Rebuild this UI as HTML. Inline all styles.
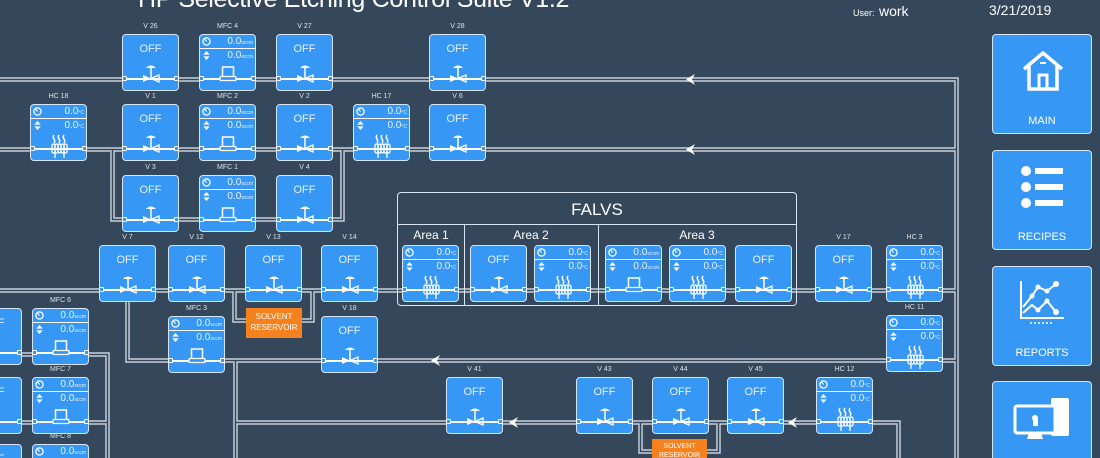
<!DOCTYPE html>
<html><head><meta charset="utf-8"><style>
html,body{margin:0;padding:0;width:1100px;height:458px;overflow:hidden}
body{background:#34475b;font-family:"Liberation Sans",sans-serif}
#w{position:relative;width:1100px;height:458px;overflow:hidden;background:#34475b}
.b{position:absolute;width:57px;height:57px;background:#3797f5;border:1.5px solid #d6e6f7;border-radius:4px;box-sizing:border-box;color:#fff}
.b i{position:absolute;top:-12px;left:-15px;right:-15px;text-align:center;font-style:normal;font-size:7px;color:#dde3ea}
.b b{position:absolute;top:8px;width:100%;text-align:center;font-weight:normal;font-size:11px;color:#e8f2ff}
.b s{position:absolute;left:1px;right:1px;top:43px;height:1.5px;background:#fff}
.b s:before,.b s:after{content:"";position:absolute;top:-2px;width:5px;height:5px;border:1px solid #fff;background:#3797f5;box-sizing:border-box;border-radius:1px}
.b s:before{left:-2px}.b s:after{right:-2px}
.b svg.ic{position:absolute;left:15px;top:29px;width:26px;height:24px}
.r{position:absolute;left:0;right:0;height:13px;font-size:10px;text-align:right;padding-right:2px;line-height:13px;white-space:nowrap;overflow:hidden;color:#e8f2ff}
.r1{top:0;border-bottom:1.5px solid #fff}.r2{top:14px}
.r small{font-size:5px}
.r svg{position:absolute;left:2px;top:2px;width:9px;height:9px}
.n{position:absolute;left:992px;width:100px;height:100px;background:#3797f5;border:1.5px solid #d6e6f7;border-radius:4px;box-sizing:border-box;color:#fff;text-align:center;font-size:11px}
.n span{position:absolute;left:0;right:0;top:80px}
.o{position:absolute;background:#f5821f;color:#fff;font-size:8px;text-align:center;line-height:11px;padding-top:3px;box-sizing:border-box}
.fal{position:absolute;left:397px;top:192px;width:400px;height:114px;border:1.5px solid #d6e6f7;border-radius:4px;box-sizing:border-box}
</style></head><body><div id="w">
<svg width="0" height="0" style="position:absolute">
<defs>
<symbol id="vv" viewBox="0 0 26 24"><path d="M8 4 Q13 -1 18 4 Z" fill="#fff"/><line x1="13" y1="4" x2="13" y2="14" stroke="#fff" stroke-width="1.5"/><path d="M5 11 L5 18 L13 14.5 Z" fill="#fff"/><path d="M21 11 L21 18 L13 14.5 Z" fill="none" stroke="#fff" stroke-width="1.3"/></symbol>
<symbol id="mm" viewBox="0 0 26 24"><rect x="7.5" y="3" width="11" height="10" fill="none" stroke="#fff" stroke-width="1.5"/><rect x="5" y="12.5" width="16" height="4" rx="1" fill="#3797f5" stroke="#fff" stroke-width="1.3"/></symbol>
<symbol id="hh" viewBox="0 0 26 24"><path d="M8 1 q-1.5 2 0 4 q1.5 2 0 4 M13 1 q-1.5 2 0 4 q1.5 2 0 4 M18 1 q-1.5 2 0 4 q1.5 2 0 4" fill="none" stroke="#fff" stroke-width="1.5"/><g fill="none" stroke="#fff" stroke-width="1.3"><rect x="6" y="10" width="3" height="9" rx="1.5"/><rect x="9" y="10" width="3" height="9" rx="1.5"/><rect x="12" y="10" width="3" height="9" rx="1.5"/><rect x="15" y="10" width="3" height="9" rx="1.5"/><rect x="18" y="10" width="3" height="9" rx="1.5"/><line x1="9" y1="19" x2="9" y2="24"/><line x1="18" y1="19" x2="18" y2="24"/></g></symbol>
<symbol id="gg" viewBox="0 0 10 10"><circle cx="5" cy="5" r="4" fill="none" stroke="#fff" stroke-width="1.4"/><path d="M5 5 L3 2.5" stroke="#fff" stroke-width="1.2"/></symbol>
<symbol id="ud" viewBox="0 0 10 10"><path d="M5 0 L8.5 4 L1.5 4 Z M5 10 L8.5 6 L1.5 6 Z" fill="#fff"/></symbol>
</defs></svg>

<div style="position:absolute;left:138px;top:-15px;font-size:25px;color:#fff;white-space:nowrap;letter-spacing:-0.3px">HP Selective Etching Control Suite  V1.2</div>
<div style="position:absolute;left:853px;top:3px;color:#fff;white-space:nowrap"><span style="font-size:9px">User:</span> <span style="font-size:14px">work</span></div>
<div style="position:absolute;left:989px;top:2px;color:#fff;font-size:14px">3/21/2019</div>

<svg style="position:absolute;left:0;top:0" width="1100" height="458">
<g fill="none" stroke="#c9d1da" stroke-width="4.5">
<path d="M0 79.5H956.5V460"/><path d="M0 149.5H956.5"/><path d="M112.5 149.5V219.5H342.5V149.5"/>
<path d="M0 290.5H956"/><path d="M127.5 290.5V360.5H956"/><path d="M235.5 360.5V460"/><path d="M235.5 422.5H898.5V460"/>
<path d="M0 354.5H107.5V460"/><path d="M0 422.5H107.5"/>
<path d="M234.5 290.5V320.5H250"/><path d="M312.5 290.5V320.5H298"/>
<path d="M640.5 422.5V451.5H656"/><path d="M718.5 422.5V451.5H704"/>
</g>
<g fill="none" stroke="#34475b" stroke-width="1.6">
<path d="M0 79.5H956.5V460"/><path d="M0 149.5H956.5"/><path d="M112.5 149.5V219.5H342.5V149.5"/>
<path d="M0 290.5H956"/><path d="M127.5 290.5V360.5H956"/><path d="M235.5 360.5V460"/><path d="M235.5 422.5H898.5V460"/>
<path d="M0 354.5H107.5V460"/><path d="M0 422.5H107.5"/>
<path d="M234.5 290.5V320.5H250"/><path d="M312.5 290.5V320.5H298"/>
<path d="M640.5 422.5V451.5H656"/><path d="M718.5 422.5V451.5H704"/>
</g>
<g fill="#fff">
<path d="M686 79.5 L695 74 L692 79.5 L695 85 Z"/><path d="M686 149.5 L695 144 L692 149.5 L695 155 Z"/>
<path d="M431 360.5 L440 355 L437 360.5 L440 366 Z"/><path d="M509 422.5 L518 417 L515 422.5 L518 428 Z"/>
<path d="M788 422.5 L797 417 L794 422.5 L797 428 Z"/>
</g>
</svg>

<div class="fal"><div style="position:absolute;left:0;right:0;top:0;height:31px;border-bottom:1.5px solid #d6e6f7;color:#fff;font-size:17px;text-align:center;line-height:33px">FALVS</div>
<div style="position:absolute;left:66px;top:31px;bottom:0;border-left:1.5px solid #d6e6f7"></div>
<div style="position:absolute;left:200px;top:31px;bottom:0;border-left:1.5px solid #d6e6f7"></div>
<div style="position:absolute;left:0;width:66px;top:35px;text-align:center;color:#fff;font-size:12px">Area 1</div>
<div style="position:absolute;left:66px;width:134px;top:35px;text-align:center;color:#fff;font-size:12px">Area 2</div>
<div style="position:absolute;left:200px;width:198px;top:35px;text-align:center;color:#fff;font-size:12px">Area 3</div>
</div>

<div class="b" style="left:122px;top:34px"><i>V 26</i><b>OFF</b><s></s><svg class="ic"><use href="#vv"/></svg></div>
<div class="b" style="left:276px;top:34px"><i>V 27</i><b>OFF</b><s></s><svg class="ic"><use href="#vv"/></svg></div>
<div class="b" style="left:429px;top:34px"><i>V 28</i><b>OFF</b><s></s><svg class="ic"><use href="#vv"/></svg></div>
<div class="b" style="left:122px;top:104px"><i>V 1</i><b>OFF</b><s></s><svg class="ic"><use href="#vv"/></svg></div>
<div class="b" style="left:276px;top:104px"><i>V 2</i><b>OFF</b><s></s><svg class="ic"><use href="#vv"/></svg></div>
<div class="b" style="left:429px;top:104px"><i>V 6</i><b>OFF</b><s></s><svg class="ic"><use href="#vv"/></svg></div>
<div class="b" style="left:122px;top:175px"><i>V 3</i><b>OFF</b><s></s><svg class="ic"><use href="#vv"/></svg></div>
<div class="b" style="left:276px;top:175px"><i>V 4</i><b>OFF</b><s></s><svg class="ic"><use href="#vv"/></svg></div>
<div class="b" style="left:99px;top:245px"><i>V 7</i><b>OFF</b><s></s><svg class="ic"><use href="#vv"/></svg></div>
<div class="b" style="left:168px;top:245px"><i>V 12</i><b>OFF</b><s></s><svg class="ic"><use href="#vv"/></svg></div>
<div class="b" style="left:245px;top:245px"><i>V 13</i><b>OFF</b><s></s><svg class="ic"><use href="#vv"/></svg></div>
<div class="b" style="left:321px;top:245px"><i>V 14</i><b>OFF</b><s></s><svg class="ic"><use href="#vv"/></svg></div>
<div class="b" style="left:470px;top:245px"><b>OFF</b><s></s><svg class="ic"><use href="#vv"/></svg></div>
<div class="b" style="left:735px;top:245px"><b>OFF</b><s></s><svg class="ic"><use href="#vv"/></svg></div>
<div class="b" style="left:815px;top:245px"><i>V 17</i><b>OFF</b><s></s><svg class="ic"><use href="#vv"/></svg></div>
<div class="b" style="left:321px;top:316px"><i>V 18</i><b>OFF</b><s></s><svg class="ic"><use href="#vv"/></svg></div>
<div class="b" style="left:446px;top:377px"><i>V 41</i><b>OFF</b><s></s><svg class="ic"><use href="#vv"/></svg></div>
<div class="b" style="left:576px;top:377px"><i>V 43</i><b>OFF</b><s></s><svg class="ic"><use href="#vv"/></svg></div>
<div class="b" style="left:652px;top:377px"><i>V 44</i><b>OFF</b><s></s><svg class="ic"><use href="#vv"/></svg></div>
<div class="b" style="left:727px;top:377px"><i>V 45</i><b>OFF</b><s></s><svg class="ic"><use href="#vv"/></svg></div>
<div class="b" style="left:-35px;top:308px"><b>OFF</b><s></s></div>
<div class="b" style="left:-35px;top:377px"><b>OFF</b><s></s></div>
<div class="b" style="left:-35px;top:444px"><b>OFF</b><s></s></div>

<div class="b" style="left:199px;top:34px"><i>MFC 4</i><div class="r r1"><svg><use href="#gg"/></svg>0.0<small>sccm</small></div><div class="r r2"><svg><use href="#ud"/></svg>0.0<small>sccm</small></div><s></s><svg class="ic"><use href="#mm"/></svg></div>
<div class="b" style="left:199px;top:104px"><i>MFC 2</i><div class="r r1"><svg><use href="#gg"/></svg>0.0<small>sccm</small></div><div class="r r2"><svg><use href="#ud"/></svg>0.0<small>sccm</small></div><s></s><svg class="ic"><use href="#mm"/></svg></div>
<div class="b" style="left:199px;top:175px"><i>MFC 1</i><div class="r r1"><svg><use href="#gg"/></svg>0.0<small>sccm</small></div><div class="r r2"><svg><use href="#ud"/></svg>0.0<small>sccm</small></div><s></s><svg class="ic"><use href="#mm"/></svg></div>
<div class="b" style="left:168px;top:316px"><i>MFC 3</i><div class="r r1"><svg><use href="#gg"/></svg>0.0<small>sccm</small></div><div class="r r2"><svg><use href="#ud"/></svg>0.0<small>sccm</small></div><s></s><svg class="ic"><use href="#mm"/></svg></div>
<div class="b" style="left:605px;top:245px"><div class="r r1"><svg><use href="#gg"/></svg>0.0<small>sccm</small></div><div class="r r2"><svg><use href="#ud"/></svg>0.0<small>sccm</small></div><s></s><svg class="ic"><use href="#mm"/></svg></div>
<div class="b" style="left:32px;top:308px"><i>MFC 6</i><div class="r r1"><svg><use href="#gg"/></svg>0.0<small>sccm</small></div><div class="r r2"><svg><use href="#ud"/></svg>0.0<small>sccm</small></div><s></s><svg class="ic"><use href="#mm"/></svg></div>
<div class="b" style="left:32px;top:377px"><i>MFC 7</i><div class="r r1"><svg><use href="#gg"/></svg>0.0<small>sccm</small></div><div class="r r2"><svg><use href="#ud"/></svg>0.0<small>sccm</small></div><s></s><svg class="ic"><use href="#mm"/></svg></div>
<div class="b" style="left:32px;top:444px"><i>MFC 8</i><div class="r r1"><svg><use href="#gg"/></svg>0.0<small>sccm</small></div><div class="r r2"><svg><use href="#ud"/></svg>0.0<small>sccm</small></div></div>

<div class="b" style="left:30px;top:104px"><i>HC 18</i><div class="r r1"><svg><use href="#gg"/></svg>0.0<small>°C</small></div><div class="r r2"><svg><use href="#ud"/></svg>0.0<small>°C</small></div><s></s><svg class="ic"><use href="#hh"/></svg></div>
<div class="b" style="left:353px;top:104px"><i>HC 17</i><div class="r r1"><svg><use href="#gg"/></svg>0.0<small>°C</small></div><div class="r r2"><svg><use href="#ud"/></svg>0.0<small>°C</small></div><s></s><svg class="ic"><use href="#hh"/></svg></div>
<div class="b" style="left:402px;top:245px"><div class="r r1"><svg><use href="#gg"/></svg>0.0<small>°C</small></div><div class="r r2"><svg><use href="#ud"/></svg>0.0<small>°C</small></div><s></s><svg class="ic"><use href="#hh"/></svg></div>
<div class="b" style="left:534px;top:245px"><div class="r r1"><svg><use href="#gg"/></svg>0.0<small>°C</small></div><div class="r r2"><svg><use href="#ud"/></svg>0.0<small>°C</small></div><s></s><svg class="ic"><use href="#hh"/></svg></div>
<div class="b" style="left:669px;top:245px"><div class="r r1"><svg><use href="#gg"/></svg>0.0<small>°C</small></div><div class="r r2"><svg><use href="#ud"/></svg>0.0<small>°C</small></div><s></s><svg class="ic"><use href="#hh"/></svg></div>
<div class="b" style="left:886px;top:245px"><i>HC 3</i><div class="r r1"><svg><use href="#gg"/></svg>0.0<small>°C</small></div><div class="r r2"><svg><use href="#ud"/></svg>0.0<small>°C</small></div><s></s><svg class="ic"><use href="#hh"/></svg></div>
<div class="b" style="left:886px;top:315px"><i>HC 11</i><div class="r r1"><svg><use href="#gg"/></svg>0.0<small>°C</small></div><div class="r r2"><svg><use href="#ud"/></svg>0.0<small>°C</small></div><s></s><svg class="ic"><use href="#hh"/></svg></div>
<div class="b" style="left:816px;top:377px"><i>HC 12</i><div class="r r1"><svg><use href="#gg"/></svg>0.0<small>°C</small></div><div class="r r2"><svg><use href="#ud"/></svg>0.0<small>°C</small></div><s></s><svg class="ic"><use href="#hh"/></svg></div>

<div class="o" style="left:246px;top:308px;width:56px;height:30px">SOLVENT<br>RESERVOIR</div>
<div class="o" style="left:652px;top:439px;width:55px;height:24px;font-size:7px;line-height:9px">SOLVENT<br>RESERVOIR</div>

<div class="n" style="top:34px"><svg style="position:absolute;left:27px;top:14px" width="46" height="44" viewBox="0 0 46 44"><path d="M4 20 L23 4 L42 20" fill="none" stroke="#fff" stroke-width="3.5" stroke-linejoin="round"/><path d="M9 17 V40 H37 V17" fill="none" stroke="#fff" stroke-width="3.5"/><rect x="19" y="26" width="8" height="14" fill="none" stroke="#fff" stroke-width="3"/><rect x="20" y="13" width="6" height="2" fill="#fff"/></svg><span>MAIN</span></div>
<div class="n" style="top:150px"><svg style="position:absolute;left:25px;top:14px" width="50" height="44" viewBox="0 0 50 44"><circle cx="8" cy="6" r="5" fill="#fff"/><circle cx="8" cy="22" r="5" fill="#fff"/><circle cx="8" cy="38" r="5" fill="#fff"/><rect x="17" y="3" width="28" height="6" fill="#fff"/><rect x="17" y="19" width="28" height="6" fill="#fff"/><rect x="17" y="35" width="28" height="6" fill="#fff"/></svg><span>RECIPES</span></div>
<div class="n" style="top:266px"><svg style="position:absolute;left:25px;top:12px" width="50" height="50" viewBox="0 0 50 50"><path d="M3 2 V39 H46" fill="none" stroke="#fff" stroke-width="2"/><path d="M5 28 L14 17 L20 8 L29 12 L38 5 M5 34 L14 26 L20 31 L29 22 L38 33" fill="none" stroke="#fff" stroke-width="2"/><g fill="#fff"><circle cx="14" cy="17" r="2.5"/><circle cx="20" cy="8" r="2.5"/><circle cx="29" cy="12" r="2.5"/><circle cx="38" cy="5" r="3"/><circle cx="20" cy="31" r="2.5"/><circle cx="29" cy="22" r="2.5"/><circle cx="38" cy="33" r="3"/></g><path d="M12 44 H34" stroke="#fff" stroke-width="1.5" stroke-dasharray="2 2"/></svg><span>REPORTS</span></div>
<div class="n" style="top:381px"><svg style="position:absolute;left:20px;top:14px" width="60" height="44" viewBox="0 0 60 44"><rect x="38" y="2" width="18" height="38" rx="2" fill="#fff"/><rect x="2" y="10" width="40" height="27" rx="2" fill="#3797f5" stroke="#fff" stroke-width="3"/><path d="M16 37 L14 43 H30 L28 37" fill="#fff"/><circle cx="22" cy="22" r="3" fill="#fff"/><rect x="20" y="22" width="5" height="8" fill="#fff"/></svg></div>
</div></body></html>
